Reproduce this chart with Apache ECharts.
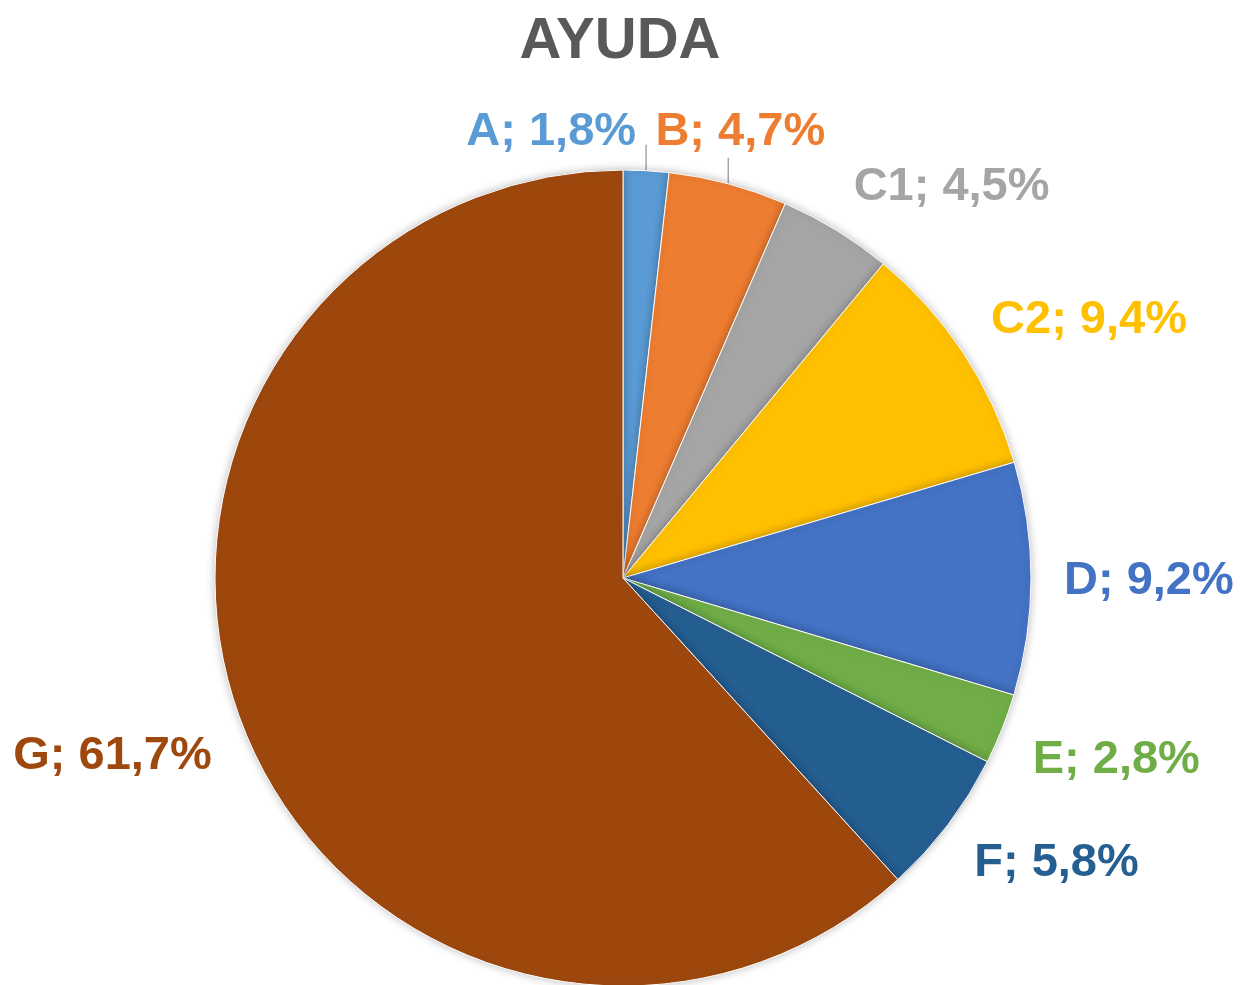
<!DOCTYPE html>
<html>
<head>
<meta charset="utf-8">
<title>AYUDA</title>
<script src="https://cdn.jsdelivr.net/npm/echarts@6/dist/echarts.min.js"></script>
<style>
  html, body { margin: 0; padding: 0; background: #fff; }
  #chart { width: 1240px; height: 985px; }
</style>
</head>
<body>
<div id="chart"></div>
<script>
// Pie "AYUDA" - share per category (values in %)

const categories = ['A', 'B', 'C1', 'C2', 'D', 'E', 'F', 'G'];
const shares = [1.8, 4.7, 4.5, 9.4, 9.2, 2.8, 5.8, 61.7];
const sliceColors = ['#5B9BD5', '#ED7D31', '#A5A5A5', '#FFC000', '#4472C4', '#70AD47', '#255E91', '#9E480E'];

// layout of the pie (px)
const CX = 623, CY = 578, R = 408;
const LABEL_FONT = 47;

const total = shares.reduce((a, b) => a + b, 0);

// mid angle of each slice, clockwise from 12 o'clock (degrees)
let cum = 0;
const midAngles = shares.map(v => {
    const m = (cum + v / 2) / total * 360;
    cum += v;
    return m;
});

const fmt = v => v.toFixed(1).replace('.', ',') + '%';

const chart = echarts.init(document.getElementById('chart'));

chart.setOption({
    backgroundColor: '#fff',
    animation: false,
    title: {
        text: 'AYUDA',
        left: 'center',
        top: 8,
        textStyle: {
            fontFamily: 'Liberation Sans, Arial, sans-serif',
            fontSize: 58,
            fontWeight: 'bold',
            color: '#595959',
            lineHeight: 58
        }
    },
    series: [{
        type: 'pie',
        center: [CX, CY],
        radius: R,
        startAngle: 90,
        clockwise: true,
        avoidLabelOverlap: false,
        itemStyle: {
            borderColor: '#fff',
            borderWidth: 1,
            shadowBlur: 8,
            shadowColor: 'rgba(0,0,0,0.25)'
        },
        label: {
            show: true,
            position: 'outside',
            fontFamily: 'Liberation Sans, Arial, sans-serif',
            fontSize: LABEL_FONT,
            fontWeight: 'bold',
            formatter: p => p.name + '; ' + fmt(p.value)
        },
        labelLine: {
            show: false,
            length: 20,
            length2: 0,
            lineStyle: { color: '#A6A6A6', width: 1.5 }
        },
        emphasis: { disabled: true },
        data: categories.map((name, i) => ({
            name: name,
            value: shares[i],
            itemStyle: { color: sliceColors[i] },
            label: { color: sliceColors[i] },
            labelLine: { show: midAngles[i] < 20 }
        })),
        labelLayout: function (p) {
            const i = p.dataIndex;
            const a = midAngles[i] * Math.PI / 180;
            const s = Math.sin(a), c = Math.cos(a);
            const capH = LABEL_FONT * 0.716;

            // crowded slices at the top: labels lifted with a leader line
            if (midAngles[i] < 20) {
                const ex = CX + R * s, ey = CY - R * c;
                const capBottom = CY - R - 23;
                const capMid = capBottom - capH / 2;
                const right = midAngles[i] < 8;
                return {
                    x: right ? ex - 10 : ex + 12,
                    y: capMid + 2,
                    align: right ? 'right' : 'center',
                    verticalAlign: 'middle',
                    labelLinePoints: [[ex, ey], [ex, ey - 13], [ex, ey - 26]]
                };
            }

            // nearest corner of the text box sits just outside the rim
            const D = R + 33;
            const ax = CX + D * s, ay = CY - D * c;
            let align = 'center';
            if (s > 0.1) align = 'left';
            else if (s < -0.1) align = 'right';
            let capMid = ay;
            if (c > 0.1) capMid = ay - capH / 2;
            else if (c < -0.1) capMid = ay + capH / 2;
            return {
                x: ax,
                y: capMid + 2,
                align: align,
                verticalAlign: 'middle'
            };
        }
    }]
});

window.addEventListener('resize', () => chart.resize());
</script>
</body>
</html>
